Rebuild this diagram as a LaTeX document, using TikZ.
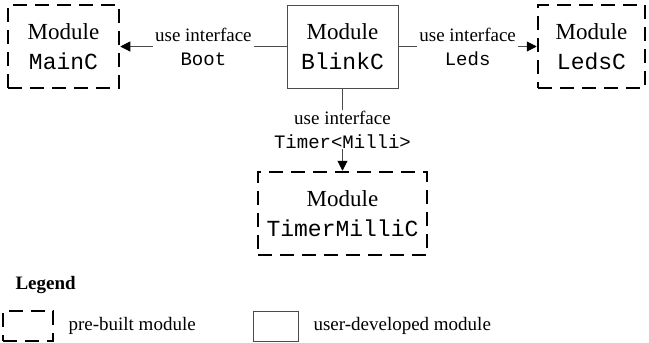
\documentclass[tikz,border=0pt]{standalone}
\usepackage{fontspec}
\setmainfont{Liberation Serif}
\setmonofont{Liberation Mono}
\usetikzlibrary{arrows.meta}

\begin{document}
\begin{tikzpicture}[x=1pt,y=-1pt,
  prebuilt/.style={draw,line width=2.5pt,dash pattern=on 14pt off 8pt,minimum width=111pt,minimum height=83pt,inner sep=0pt,align=center,font=\fontsize{23}{30}\selectfont},
  userdev/.style={draw=black!70,line width=1pt,minimum width=111pt,minimum height=83pt,inner sep=0pt,align=center,font=\fontsize{23}{30}\selectfont},
  uses/.style={draw=black!70,line width=1pt,-{Triangle[length=10pt,width=10pt,color=black]}},
  iface/.style={fill=white,inner xsep=2pt,inner ysep=1pt,align=center,font=\fontsize{19}{24}\selectfont},
  keytext/.style={anchor=west,font=\fontsize{19}{24}\selectfont}]
\useasboundingbox (0,0) rectangle (649,343);

\node[prebuilt] (main) at (63.5,46.5) {Module\\\texttt{MainC}};
\node[userdev] (blink) at (342.5,46.5) {Module\\\texttt{BlinkC}};
\node[prebuilt,minimum width=107pt] (leds) at (591.5,46.5) {Module\\\texttt{LedsC}};
\node[prebuilt,minimum width=169pt] (timer) at (342.5,213.5) {Module\\\texttt{TimerMilliC}};

\path[uses] (blink) -- (main) node[midway,iface] {use interface\\\texttt{Boot}};
\path[uses] (blink) -- (leds) node[midway,iface] {use interface\\\texttt{Leds}};
\path[uses] (blink) -- (timer) node[midway,iface] {use interface\\\texttt{Timer<Milli>}};

% legend
\node[anchor=west,font=\fontsize{19}{24}\selectfont\bfseries] (legend) at (12,285) {Legend};
\node[prebuilt,minimum width=50pt,minimum height=30pt] (keypre) at (28,326) {};
\node[keytext] (keypretext) at (65,326) {pre-built module};
\node[userdev,minimum width=45pt,minimum height=30pt] (keyuser) at (275.5,326) {};
\node[keytext] (keyusertext) at (310,326) {user-developed module};
\end{tikzpicture}
\end{document}
